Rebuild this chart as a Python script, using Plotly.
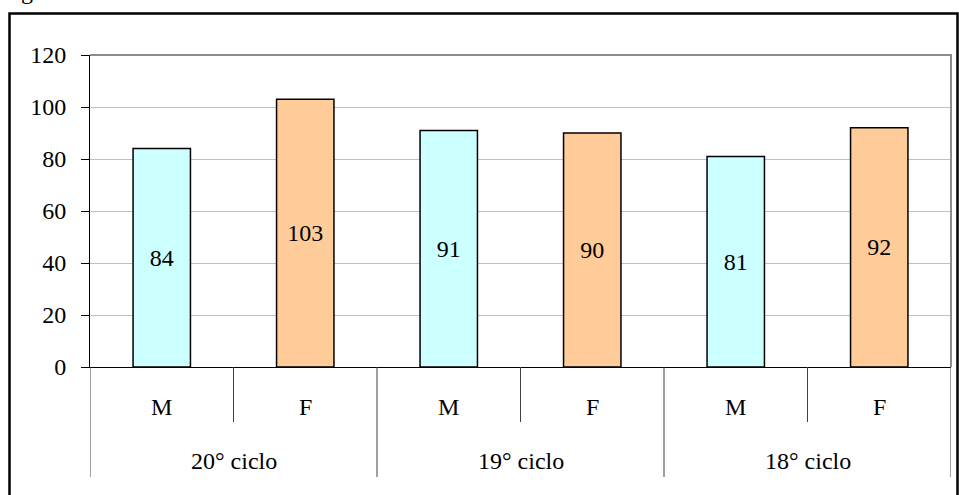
import plotly.graph_objects as go

# Data
cycles = ["20° ciclo", "19° ciclo", "18° ciclo"]
sexes = ["M", "F"]
values = [84, 103, 91, 90, 81, 92]
bar_colors = {"M": "#CCFFFF", "F": "#FFCC99"}
y_ticks = [0, 20, 40, 60, 80, 100, 120]

FONT = "Liberation Serif"
FS = 24
W, H = 959, 495
ML, MR, MT, MB = 90, 8, 55, 128
PW, PH = W - ML - MR, H - MT - MB


def px_x(px):
    return (px - ML) / PW


def px_y(py):
    return (H - MB - py) / PH


idx = list(range(len(values)))
cat_sex = [sexes[i % 2] for i in idx]

fig = go.Figure()
fig.add_trace(go.Bar(
    x=idx,
    y=values,
    width=0.4,
    marker=dict(color=[bar_colors[s] for s in cat_sex],
                line=dict(color="black", width=1.5)),
    text=[str(v) for v in values],
    textposition="inside",
    insidetextanchor="middle",
    textangle=0,
    textfont=dict(family=FONT, size=FS, color="black"),
    cliponaxis=False,
    hoverinfo="skip",
))

shapes = []
# separators below the category axis: short between M/F, long between cycles
for b in range(len(values) + 1):
    xb = b - 0.5
    long_sep = (b % 2 == 0)
    y_end = px_y(477) if long_sep else px_y(422)
    shapes.append(dict(type="line", xref="x", yref="paper",
                       x0=xb, x1=xb, y0=0, y1=y_end,
                       line=dict(color="#404040", width=1)))
# plot area frame (top and right)
shapes.append(dict(type="path", xref="paper", yref="paper",
                   path="M 0,1 L 1,1 L 1,0",
                   line=dict(color="#8c8c8c", width=2)))
# outer chart border
shapes.append(dict(type="rect", xref="paper", yref="paper",
                   x0=px_x(9.5), x1=px_x(957.5), y0=px_y(500), y1=px_y(13.5),
                   line=dict(color="black", width=2.5)))

annotations = []
for i, s in enumerate(cat_sex):
    annotations.append(dict(x=i, y=px_y(407), xref="x", yref="paper",
                            text=s, showarrow=False, yanchor="middle",
                            font=dict(family=FONT, size=FS, color="black")))
for g, c in enumerate(cycles):
    annotations.append(dict(x=2 * g + 0.5, y=px_y(461), xref="x", yref="paper",
                            text=c, showarrow=False, yanchor="middle",
                            font=dict(family=FONT, size=FS, color="black")))
# caption above the chart frame
annotations.append(dict(x=px_x(27), y=px_y(6), xref="paper", yref="paper",
                        text="g", showarrow=False, yanchor="bottom",
                        xanchor="center",
                        font=dict(family=FONT, size=FS, color="black")))

fig.update_layout(
    width=W, height=H,
    margin=dict(l=ML, r=MR, t=MT, b=MB, pad=0),
    paper_bgcolor="white", plot_bgcolor="white",
    showlegend=False,
    bargap=0.6,
    shapes=shapes,
    annotations=annotations,
    xaxis=dict(range=[-0.5, len(values) - 0.5], showticklabels=False,
               showgrid=False, zeroline=False, ticks="",
               showline=True, linecolor="black", linewidth=1,
               fixedrange=True),
    yaxis=dict(range=[0, 120], tickvals=y_ticks,
               ticktext=[str(t) for t in y_ticks],
               showgrid=True, gridcolor="#c0c0c0", gridwidth=1,
               zeroline=False, showline=True, linecolor="black", linewidth=1,
               ticks="outside", ticklen=8, tickcolor="black",
               ticklabelstandoff=10,
               tickfont=dict(family=FONT, size=FS, color="black"),
               fixedrange=True),
)

fig.write_html("out.html")
